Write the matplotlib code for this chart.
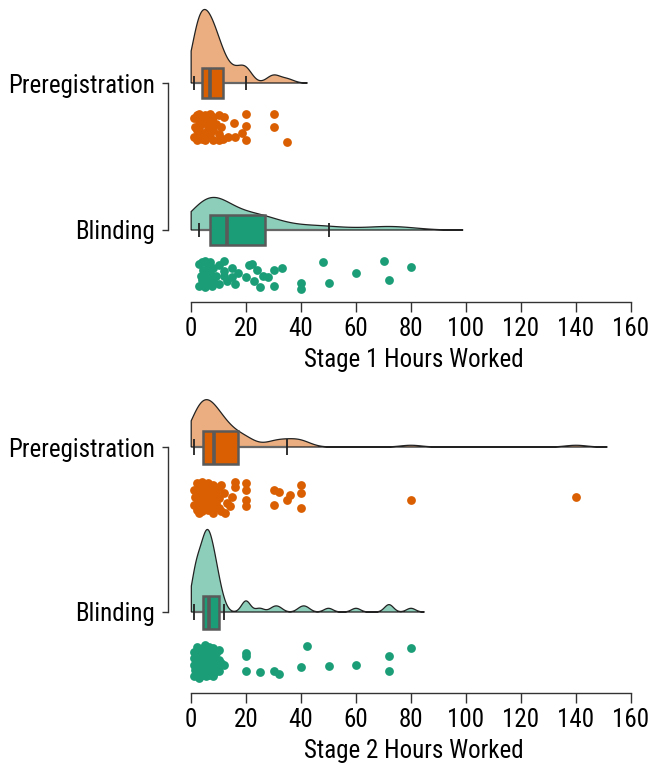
import numpy as np
import matplotlib
matplotlib.use("Agg")
import matplotlib.pyplot as plt
from matplotlib.patches import Rectangle
from matplotlib.colors import to_rgba

plt.rcParams['font.family'] = ['Roboto Condensed', 'Archivo Narrow', 'Liberation Sans', 'DejaVu Sans']

groups = ['Preregistration', 'Blinding']
stage_labels = ['Stage 1 Hours Worked', 'Stage 2 Hours Worked']
x_ticks = [0, 20, 40, 60, 80, 100, 120, 140, 160]

# stage 1 hours
s1_prereg_hours = [1, 1, 1.5, 2, 2, 2, 3, 3, 3, 3, 3.5, 4, 4, 5, 5, 5, 5, 6, 6, 6,
                   7, 7, 7, 7.5, 8, 8, 8, 9, 10, 10, 10, 11, 11.5, 12, 13.5, 15.5, 16, 18.5, 20, 20,
                   20, 30, 30, 35]
s1_prereg_jitter = [0.2, 0.85, 0.5, 0.1, 0.95, 0.6, 0.3, 0.8, 0.05, 0.55, 0.4, 0.2, 0.9, 0.7, 0.1, 0.95, 0.35, 0.55, 0.2, 0.85,
                    0.45, 0.05, 0.75, 0.3, 0.6, 0.95, 0.15, 0.4, 0.75, 0.1, 0.95, 0.5, 0.9, 0.15, 0.85, 0.35, 0.85, 0.7, 0.05, 0.45,
                    0.95, 0.05, 0.5, 1.0]
s1_blind_hours = [3, 3, 3.5, 4, 4, 4.5, 5, 5, 5, 6, 6, 6.5, 7, 7, 7.5, 8, 8, 9, 10, 10,
                  12, 12, 12, 13, 15, 15, 16, 17, 20, 21, 22, 23, 24, 25, 26, 28, 30, 30, 33, 40,
                  40, 48, 50, 60, 70, 72, 80]
s1_blind_jitter = [0.15, 0.9, 0.55, 0.1, 0.7, 0.35, 0.05, 0.95, 0.5, 0.25, 0.8, 0.6, 0.1, 0.45, 0.9, 0.3, 0.7, 0.55, 0.85, 0.2,
                   0.05, 0.4, 0.55, 0.75, 0.3, 0.6, 0.85, 0.45, 0.6, 0.2, 0.15, 0.75, 0.35, 0.95, 0.55, 0.6, 0.35, 0.9, 0.3, 0.8,
                   1.0, 0.1, 0.8, 0.45, 0.05, 0.7, 0.25]

# stage 2 hours
s2_prereg_hours = [1, 1, 1.5, 2, 2, 2, 2.5, 3, 3, 3, 3, 4, 4, 4, 4.5, 5, 5, 5, 5.5, 6,
                   6, 6, 7, 7, 7.5, 8, 8, 8, 9, 9, 10, 10, 10, 11, 11, 12, 12.5, 13, 14, 15,
                   16, 16, 20, 20, 20, 20, 30, 32, 36, 35, 30, 40, 40, 40, 80, 140]
s2_prereg_jitter = [0.3, 0.75, 0.5, 0.1, 0.9, 0.45, 0.6, 0.2, 0.8, 0.45, 1.0, 0.05, 0.65, 0.95, 0.35, 0.2, 0.75, 0.55, 0.4, 0.1,
                    0.9, 0.4, 0.65, 0.3, 0.85, 0.15, 0.5, 1.0, 0.7, 0.35, 0.2, 0.85, 0.55, 0.95, 0.15, 0.4, 1.0, 0.7, 0.8, 0.5,
                    0.05, 0.2, 0.1, 0.3, 0.6, 0.8, 0.3, 0.35, 0.45, 0.6, 0.75, 0.15, 0.4, 0.85, 0.6, 0.5]
s2_blind_hours = [1, 1, 1, 1, 1.5, 2, 2, 2, 2.5, 3, 3, 3, 3.5, 3.5,
                  4.5, 4.5, 4.5, 5, 5, 5, 5, 5, 5.5, 6, 6, 6, 6, 6, 6.5, 6.5,
                  6.5, 7, 7, 7, 7.5, 8, 8, 8, 8, 8.5, 9, 9, 9, 10, 10, 10,
                  11, 12,
                  20, 20, 20, 25, 30, 32, 40, 42, 50, 60, 72, 72, 80]
s2_blind_jitter = [0.2, 0.6, 0.95, 0.4, 0.75, 0.05, 0.5, 0.85, 0.3, 0.65, 1.0, 0.15, 0.45, 0.8,
                   0.1, 0.55, 0.9, 0.35, 0.7, 0.0, 0.6, 0.25, 0.95, 0.45, 0.8, 0.15, 0.5, 0.7, 0.3, 0.9,
                   0.05, 0.4, 0.75, 0.2, 0.6, 0.95, 0.35, 0.65, 0.1, 0.85, 0.5, 0.25, 0.7, 0.45, 0.15, 0.8,
                   0.55, 0.6,
                   0.25, 0.33, 0.8, 0.82, 0.8, 0.88, 0.67, 0.03, 0.64, 0.6, 0.33, 0.8, 0.1]

panels = [
    [(s1_prereg_hours, s1_prereg_jitter), (s1_blind_hours, s1_blind_jitter)],
    [(s2_prereg_hours, s2_prereg_jitter), (s2_blind_hours, s2_blind_jitter)],
]
colors = ['#D95F02', '#1B9E77']


def bw_nrd0(x):
    sd = np.std(x, ddof=1)
    q75, q25 = np.percentile(x, [75, 25])
    return 0.9 * min(sd, (q75 - q25) / 1.34) * len(x) ** -0.2


def kde(x):
    bw = bw_nrd0(x)
    grid = np.linspace(x.min() - 3 * bw, x.max() + 3 * bw, 512)
    grid = grid[grid >= 0]
    z = (grid[:, None] - x[None, :]) / bw
    dens = np.exp(-0.5 * z ** 2).sum(axis=1) / (len(x) * bw * np.sqrt(2 * np.pi))
    return grid, dens


W, H = 657, 765
fig = plt.figure(figsize=(W / 100, H / 100), dpi=100)

# pixel layout of each panel: (top px, axis px, first group px, second group px)
layout = [(0, 302, 83, 230), (375, 693, 447, 612)]
label_base = [367, 758]
x0_px, px_per_unit = 191, 2.75
ax_left, ax_right = 168, 640

for p, (top, bot, g0, g1) in enumerate(layout):
    sp = g1 - g0
    ax = fig.add_axes([ax_left / W, 1 - bot / H, (ax_right - ax_left) / W, (bot - top) / H])
    ax.set_xlim((ax_left - x0_px) / px_per_unit, (ax_right - x0_px) / px_per_unit)
    ax.set_ylim(1 + (bot - g1) / sp, -(g0 - top) / sp)

    dens_list = []
    for vals, _ in panels[p]:
        dens_list.append(kde(np.asarray(vals, float)))
    dmax = max(d.max() for _, d in dens_list)

    for i, ((vals, jit), (grid, dens)) in enumerate(zip(panels[p], dens_list)):
        vals = np.asarray(vals, float)
        c = colors[i]
        h = 0.5 * dens / dmax
        ax.fill(np.r_[grid, grid[::-1]], np.r_[i - h, np.full(len(grid), i)],
                facecolor=to_rgba(c, 0.5), edgecolor='#222222', lw=0.9, zorder=1)

        q1, med, q3 = np.percentile(vals, [25, 50, 75])
        iqr = q3 - q1
        whi = vals[vals <= q3 + 1.5 * iqr].max()
        wlo = vals[vals >= q1 - 1.5 * iqr].min()
        ax.hlines(i, wlo, whi, color='#666666', lw=1.6, zorder=2)
        ax.vlines([wlo, whi], i - 0.05, i + 0.05, color='#222222', lw=1.3, zorder=2)
        ax.add_patch(Rectangle((q1, i - 0.1), q3 - q1, 0.2, facecolor=c,
                               edgecolor='#5a5a5a', lw=1.8, zorder=3))
        ax.vlines(med, i - 0.1, i + 0.1, color='#5a5a5a', lw=2.6, zorder=4)

        ax.scatter(vals, i + 0.2 + 0.2 * np.asarray(jit), s=40, color=c, lw=0, zorder=5)

    for s in ['top', 'right']:
        ax.spines[s].set_visible(False)
    ax.spines['left'].set_bounds(0, 1)
    ax.spines['bottom'].set_bounds(0, 160)
    for s in ['left', 'bottom']:
        ax.spines[s].set_color('#333333')
        ax.spines[s].set_linewidth(1.0)
    ax.set_yticks([0, 1])
    ax.set_yticklabels(groups)
    ax.set_xticks(x_ticks)
    ax.tick_params(axis='both', labelsize=18, color='#333333', width=1.0)
    ax.tick_params(axis='y', length=4.3, pad=5)
    ax.tick_params(axis='x', length=7, pad=4)
    ax.patch.set_visible(False)

    fig.text(414 / W, 1 - label_base[p] / H, stage_labels[p], ha='center', va='baseline', fontsize=18)

fig.savefig('out.png', dpi=100)
